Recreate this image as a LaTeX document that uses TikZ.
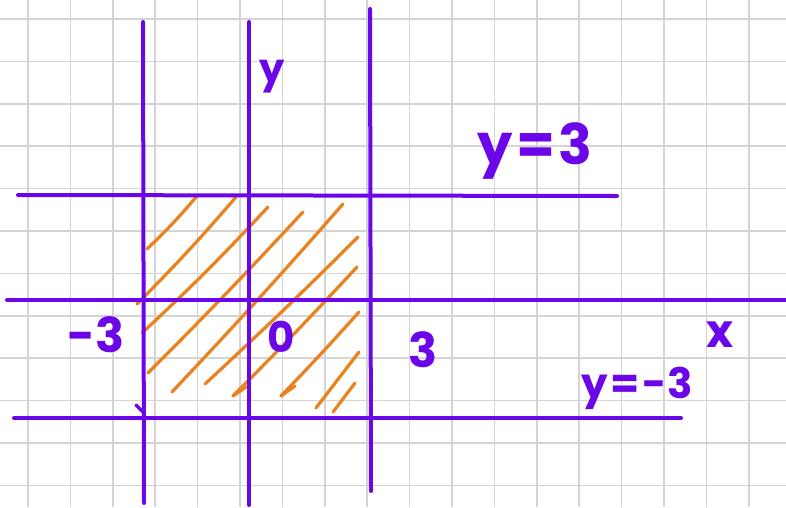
\documentclass[tikz,border=0pt]{standalone}
\usepackage{fontspec}
\setmainfont{Poppins}
\definecolor{pen}{RGB}{106,6,232}
\definecolor{hatch}{RGB}{234,130,30}
\definecolor{gridc}{RGB}{212,212,212}
\tikzset{
  gridline/.style={draw=gridc, line width=1.5pt},
  penline/.style={draw=pen, line width=4pt, line cap=round},
  hatchline/.style={draw=hatch, line width=3.2pt, line cap=round},
  lbl/.style={text=pen, inner sep=0pt, anchor=center},
}
\begin{document}
\begin{tikzpicture}[x=1pt,y=-1pt]
\useasboundingbox (0,0) rectangle (786,507);
\fill[white] (0,0) rectangle (786,507);
% grid
\foreach \i in {0,...,18} {
  \draw[gridline] ({28+42.4*\i},0) -- ({28+42.4*\i},507);
}
\foreach \j in {0,...,11} {
  \draw[gridline] (0,{19+42.4*\j}) -- (786,{19+42.4*\j});
}
% hatching
\draw[hatchline] (147,249) to[bend right=3] (197,196);
\draw[hatchline] (137,304) to[bend right=2] (236,197);
\draw[hatchline] (142,333) to[bend right=2] (268,207);
\draw[hatchline] (148,373) to[bend right=1] (303,212);
\draw[hatchline] (172,392) to[bend right=1] (343,204);
\draw[hatchline] (205,384) to[bend right=1] (358,237);
\draw[hatchline] (233,396) to[bend right=1] (357,267);
\draw[hatchline] (281,396) to[bend right=1] (359,312);
\draw[hatchline] (316,408) to (359,352);
\draw[hatchline] (333,412) to (355,383);
\draw[hatchline] (233,396) -- (246,387);
\draw[hatchline] (281,396) -- (295,386);
% axes and boundary lines
\coordinate (v1t) at (143,22);  \coordinate (v1b) at (144,503);
\coordinate (v2t) at (249,22);  \coordinate (v2b) at (249,505);
\coordinate (v3t) at (370,9);   \coordinate (v3b) at (371,491);
\coordinate (h1l) at (18,195);  \coordinate (h1r) at (617,196);
\coordinate (h2l) at (7,300);   \coordinate (h2r) at (786,300);
\coordinate (h3l) at (14,418);  \coordinate (h3r) at (681,418);
\draw[penline] (v1t) -- (v1b);
\draw[penline] (v2t) -- (v2b);
\draw[penline] (v3t) -- (v3b);
\draw[penline] (h1l) -- (h1r);
\draw[penline] (h2l) -- (h2r);
\draw[penline] (h3l) -- (h3r);
\draw[penline, line width=3.5pt] (136,405) -- (143,412);
% labels
\node[lbl, font=\fontsize{40}{40}\selectfont\bfseries] (ly) at (272,77) {y};
\node[lbl, font=\fontsize{56}{56}\selectfont\bfseries] (leq3) at (535,151) {y\hspace{3pt}=\hspace{3pt}3};
\node[lbl, font=\fontsize{48}{48}\selectfont\bfseries] (lm3) at (96,335) {-3};
\node[lbl, font=\fontsize{42}{42}\selectfont\bfseries] (l0) at (281,337) {0};
\node[lbl, font=\fontsize{48}{48}\selectfont\bfseries] (l3) at (423,350) {3};
\node[lbl, font=\fontsize{46}{46}\selectfont\bfseries] (lx) at (720,335) {x};
\node[lbl, font=\fontsize{42}{42}\selectfont\bfseries] (leqm3) at (637,388) {y\hspace{3pt}=\hspace{3pt}-3};
\end{tikzpicture}
\end{document}
